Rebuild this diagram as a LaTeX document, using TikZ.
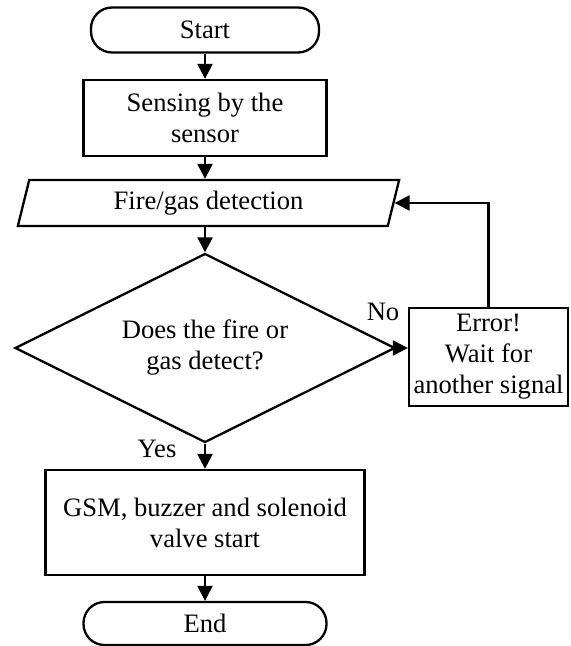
\documentclass[tikz,border=0pt]{standalone}
\usepackage{fontspec}
\setmainfont{Liberation Serif}
\usetikzlibrary{arrows.meta}
\usetikzlibrary{shapes.geometric}

\begin{document}
\begin{tikzpicture}[x=0.5pt,y=-0.5pt,
	every node/.style={font=\fontsize{13.3}{15.5}\selectfont, align=center, inner sep=0pt},
	box/.style={draw, line width=1.15pt, rectangle},
	term/.style={draw, line width=1.15pt, rectangle, rounded corners=10.5pt},
	io/.style={draw, line width=1.15pt, trapezium, trapezium left angle=76, trapezium right angle=104, trapezium stretches=true},
	decision/.style={draw, line width=1.15pt, diamond, aspect=2},
	flow/.style={line width=1.15pt, -{Triangle[length=7.5pt,width=7.5pt]}}]
	\useasboundingbox (0,0) rectangle (570,646);
	
	\node[term, minimum width=114pt, minimum height=22.5pt] (start) at (205,30) {Start};
	\node[box, minimum width=121.5pt, minimum height=38pt] (sense) at (205,118) {Sensing by the\\sensor};
	\node[io, minimum width=191pt, minimum height=23pt] (fire) at (208.5,203) {Fire/gas detection};
	\node[decision, minimum width=190pt, minimum height=94.5pt] (check) at (205,348) {Does the fire or\\gas detect?};
	\node[box, minimum width=79.5pt, minimum height=49pt] (err) at (488.5,357) {Error!\\Wait for\\another signal};
	\node[box, minimum width=159.5pt, minimum height=52.5pt] (act) at (205,522.5) {GSM, buzzer and solenoid\\valve start};
	\node[term, minimum width=121.5pt, minimum height=21.5pt] (end) at (205,623.5) {End};
	
	\node (no) at (383,312) {No};
	\node (yes) at (157,449) {Yes};
	
	\draw[flow] (start) -- (sense);
	\draw[flow] (sense.south) -- (sense.south |- fire.north);
	\draw[flow] (fire.south -| check.north) -- (check.north);
	\draw[flow] (check.east) -- (check.east -| err.west);
	\draw[flow] (err.north) |- (fire.east);
	\draw[flow] (check) -- (act);
	\draw[flow] (act) -- (end);
\end{tikzpicture}
\end{document}
